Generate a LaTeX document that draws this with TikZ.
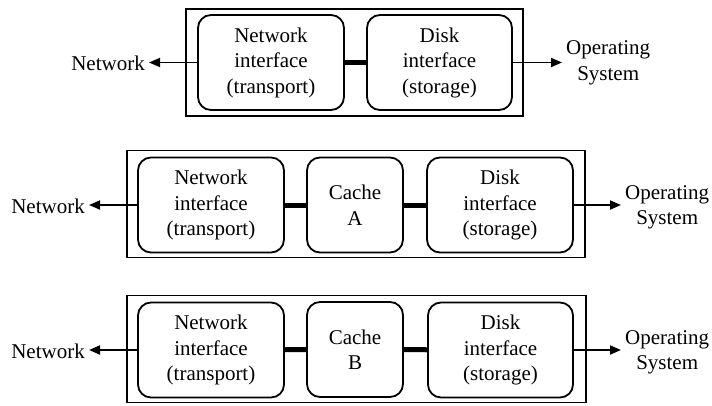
\documentclass[tikz,border=0pt]{standalone}
\usepackage{fontspec}
\setmainfont{Liberation Serif}
\usetikzlibrary{arrows.meta}
\begin{document}
\begin{tikzpicture}[x=1pt,y=-1pt,
  font=\fontsize{21}{25.5}\selectfont,
  outerbox/.style={draw,line width=1.8pt,minimum height=107pt,inner sep=0pt},
  unit/.style={draw,line width=1.8pt,rounded corners=13pt,align=center,
               minimum height=95pt,inner sep=0pt},
  wideunit/.style={unit,minimum width=146pt},
  cacheunit/.style={unit,minimum width=96pt},
  link/.style={line width=5pt},
  flow/.style={line width=1.8pt,-{Triangle[length=11pt,width=9pt]}},
  lbl/.style={inner sep=4pt,align=center}]
\useasboundingbox (0,0) rectangle (712,405);

% --- plain server: transport and storage only ---
\node[outerbox,minimum width=337pt] (o1) at (354.5,62.5) {};
\node[wideunit] (n1) at (271,62.5) {Network\\interface\\(transport)};
\node[wideunit,minimum width=145pt] (d1) at (439.5,62.5) {Disk\\interface\\(storage)};
\node[lbl,anchor=east] (net1) at (149,63.5) {Network};
\node[lbl,anchor=west] (os1) at (562,63) {Operating\\System};
\draw[link] (n1) -- (d1);
\draw[flow] (n1.west) -- (n1.west -| net1.east);
\draw[flow] (d1.east) -- (d1.east -| os1.west);

% --- server with cache A ---
\node[outerbox,minimum width=458pt] (o2) at (356,204) {};
\node[wideunit] (n2) at (211,205) {Network\\interface\\(transport)};
\node[cacheunit] (c2) at (355,205) {Cache\\A};
\node[wideunit] (d2) at (500,205) {Disk\\interface\\(storage)};
\node[lbl,anchor=east] (net2) at (89,206) {Network};
\node[lbl,anchor=west] (os2) at (621,207.5) {Operating\\System};
\draw[link] (n2) -- (c2);
\draw[link] (c2) -- (d2);
\draw[flow] (n2.west) -- (n2.west -| net2.east);
\draw[flow] (d2.east) -- (d2.east -| os2.west);

% --- server with cache B ---
\node[outerbox,minimum width=459pt] (o3) at (356.5,349) {};
\node[wideunit] (n3) at (211,350) {Network\\interface\\(transport)};
\node[cacheunit] (c3) at (355,349.5) {Cache\\B};
\node[wideunit,minimum width=145pt] (d3) at (500.5,350) {Disk\\interface\\(storage)};
\node[lbl,anchor=east] (net3) at (89,351) {Network};
\node[lbl,anchor=west] (os3) at (621,352.5) {Operating\\System};
\draw[link] (n3) -- (c3);
\draw[link] (c3) -- (d3);
\draw[flow] (n3.west) -- (n3.west -| net3.east);
\draw[flow] (d3.east) -- (d3.east -| os3.west);
\end{tikzpicture}
\end{document}
